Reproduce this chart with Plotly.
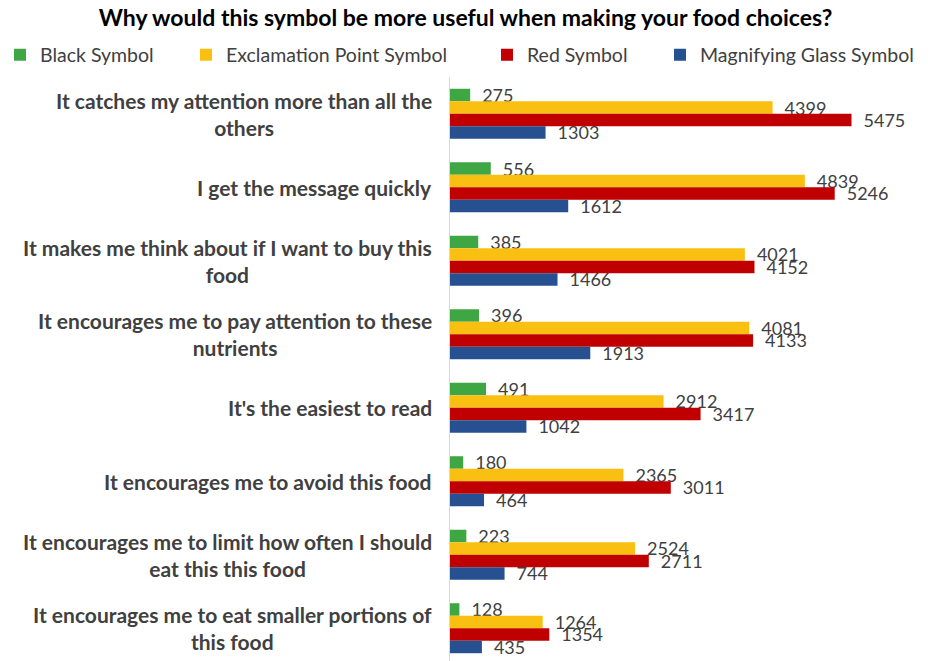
import plotly.graph_objects as go

# Survey answers: why each front-of-pack symbol would be more useful
categories = [
    "It catches my attention more than all the<br>others",
    "I get the message quickly",
    "It makes me think about if I want to buy this<br>food",
    "It encourages me to pay attention to these<br>nutrients",
    "It's the easiest to read",
    "It encourages me to avoid this food",
    "It encourages me to limit how often I should<br>eat this this food",
    "It encourages me to eat smaller portions of<br>this food",
]
black_symbol = [275, 556, 385, 396, 491, 180, 223, 128]
exclamation_symbol = [4399, 4839, 4021, 4081, 2912, 2365, 2524, 1264]
red_symbol = [5475, 5246, 4152, 4133, 3417, 3011, 2711, 1354]
magnifier_symbol = [1303, 1612, 1466, 1913, 1042, 464, 744, 435]

series = [
    ("Black Symbol", black_symbol, "#3EA743", "legend"),
    ("Exclamation Point Symbol", exclamation_symbol, "#F9C011", "legend2"),
    ("Red Symbol", red_symbol, "#C00000", "legend3"),
    ("Magnifying Glass Symbol", magnifier_symbol, "#26508F", "legend4"),
]

FONT = "Lato, Roboto, Arial, sans-serif"
GREY = "#404040"
W, H = 931, 661

fig = go.Figure()
for name, vals, color, leg in series:
    fig.add_trace(go.Bar(
        name=name, y=categories, x=vals, orientation="h",
        marker=dict(color=color, line=dict(width=0)),
        text=["\u2002" + str(v) for v in vals],
        textposition="outside", constraintext="none", cliponaxis=False,
        textfont=dict(family=FONT, size=18, color=GREY),
        legend=leg, showlegend=True,
    ))

# wrapped, centred category labels to the left of the axis
for cat in categories:
    fig.add_annotation(
        x=0, xref="paper", y=cat, yref="y", xshift=-16,
        xanchor="right", yanchor="middle", align="center",
        text="<b>" + cat + "</b>", showarrow=False,
        font=dict(family=FONT, size=21, color=GREY),
    )

plot_left, plot_width, plot_top = 450, 440, 77

legend_base = dict(orientation="h", yanchor="middle", xanchor="left",
                   xref="container", yref="container",
                   bgcolor="rgba(0,0,0,0)", itemclick=False,
                   font=dict(family=FONT, size=19.5, color=GREY))
legend_x = [-7, 186, 487, 660]
legend_y = 1 - 55 / H

fig.update_layout(
    width=W, height=H, showlegend=True,
    margin=dict(l=plot_left, r=W - plot_left - plot_width, t=plot_top, b=0),
    paper_bgcolor="white", plot_bgcolor="white",
    barmode="group", bargap=0.32, bargroupgap=0,
    title=dict(text="<b>Why would this symbol be more useful when making your food choices?</b>",
               x=0.5, xanchor="center", y=1 - 18 / H, yanchor="middle",
               font=dict(family=FONT, size=23, color="black")),
    xaxis=dict(range=[0, 6000], visible=False, showgrid=False, zeroline=False),
    yaxis=dict(range=[7.446, -0.5], showticklabels=False, showgrid=False,
               zeroline=False, showline=True, linecolor="#D9D9D9", linewidth=1,
               ticks=""),
    legend=dict(legend_base, x=legend_x[0] / W, y=legend_y),
    legend2=dict(legend_base, x=legend_x[1] / W, y=legend_y),
    legend3=dict(legend_base, x=legend_x[2] / W, y=legend_y),
    legend4=dict(legend_base, x=legend_x[3] / W, y=legend_y),
)

fig.write_html("out.html")
